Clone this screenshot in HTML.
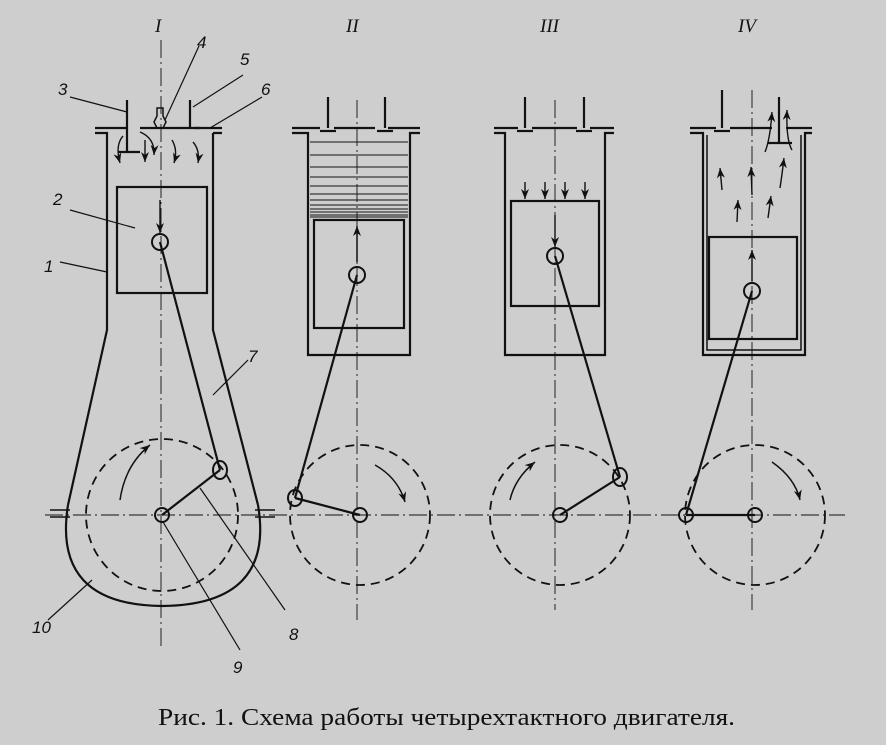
<!DOCTYPE html>
<html><head><meta charset="utf-8"><style>
html,body{margin:0;padding:0;background:#cecece;}
svg{display:block;}
text{font-family:"Liberation Serif","DejaVu Serif",serif;fill:#111;}
.n{font-style:italic;font-size:17px;font-family:"Liberation Sans",sans-serif;}
.r{font-style:italic;font-size:19px;font-family:"Liberation Serif",serif;}
</style></head><body>
<svg width="886" height="745" viewBox="0 0 886 745" xmlns="http://www.w3.org/2000/svg">
<rect width="886" height="745" fill="#cecece"/>
<defs>
<marker id="a" markerWidth="11" markerHeight="8" refX="10" refY="4" orient="auto" markerUnits="userSpaceOnUse">
<path d="M0,0 L10,4 L0,8 L3,4 Z" fill="#111"/></marker>
</defs>
<g stroke="#111" fill="none" stroke-width="1">
<g stroke-dasharray="18,4,2,4" stroke-width="0.9">
<line x1="45" y1="515" x2="845" y2="515"/>
<line x1="161" y1="40" x2="161" y2="650"/>
<line x1="357" y1="100" x2="357" y2="620"/>
<line x1="555" y1="100" x2="555" y2="610"/>
<line x1="752" y1="90" x2="752" y2="610"/>
</g>
<g stroke-width="2.2">
<path d="M95,128 H127 M140,128 H182 M195,128 H222"/>
<path d="M95,133 H107 V330 L68,505 M213,133 H222 M213,133 V330 L258,505"/>
<path d="M68,505 Q52,605 162,606 Q275,605 258,505"/>
<path d="M50,510 H70 M50,517 H70 M255,510 H275 M255,517 H275" stroke-width="1.5"/>
<rect x="117" y="187" width="90" height="106"/>
<line x1="127" y1="100" x2="127" y2="152"/><line x1="118" y1="152" x2="140" y2="152"/>
<line x1="190" y1="100" x2="190" y2="128"/><line x1="181" y1="128" x2="200" y2="128"/>
<path d="M157,108 h6 v8 l3,6 -3,6 h-6 l-3,-6 3,-6z" stroke-width="1.5"/>
<line x1="160" y1="242" x2="220" y2="470"/>
<line x1="162" y1="515" x2="220" y2="470"/>
</g>
<circle cx="160" cy="242" r="8" stroke-width="2"/>
<circle cx="162" cy="515" r="7" stroke-width="2"/>
<ellipse cx="220" cy="470" rx="7" ry="9" stroke-width="2"/>
<circle cx="162" cy="515" r="76" stroke-width="1.8" stroke-dasharray="9,6"/>
<path d="M120,500 Q125,465 150,445" stroke-width="1.5" marker-end="url(#a)"/>
<g stroke-width="1.4">
<path d="M123,136 Q115,145 120,163" marker-end="url(#a)"/>
<line x1="145" y1="140" x2="145" y2="162" marker-end="url(#a)"/>
<path d="M140,132 Q155,138 154,155" marker-end="url(#a)"/>
<path d="M172,140 Q178,150 174,163" marker-end="url(#a)"/>
<path d="M193,142 Q200,150 198,163" marker-end="url(#a)"/>
<line x1="160" y1="200" x2="160" y2="233" marker-end="url(#a)"/>
</g>
<g stroke-width="1.2">
<line x1="70" y1="97" x2="127" y2="112"/>
<line x1="199" y1="46" x2="165" y2="120"/>
<line x1="243" y1="75" x2="193" y2="107"/>
<line x1="262" y1="97" x2="210" y2="128"/>
<line x1="70" y1="210" x2="135" y2="228"/>
<line x1="60" y1="262" x2="107" y2="272"/>
<line x1="248" y1="360" x2="213" y2="395"/>
<line x1="200" y1="488" x2="285" y2="610"/>
<line x1="163" y1="522" x2="240" y2="650"/>
<line x1="48" y1="620" x2="92" y2="580"/>
</g>
<g stroke-width="2.2">
<path d="M292,128 H320 M334,128 H375 M388,128 H420"/>
<path d="M292,133 H308 V355 H410 V133 H420"/>
<rect x="314" y="220" width="90" height="108"/>
<line x1="328" y1="97" x2="328" y2="128"/><line x1="320" y1="131" x2="336" y2="131"/>
<line x1="385" y1="97" x2="385" y2="128"/><line x1="377" y1="131" x2="393" y2="131"/>
<line x1="357" y1="275" x2="295" y2="498"/>
<line x1="295" y1="498" x2="360" y2="515"/>
</g>
<g stroke-width="1.1">
<line x1="310" y1="142" x2="408" y2="142"/><line x1="310" y1="155" x2="408" y2="155"/>
<line x1="310" y1="167" x2="408" y2="167"/><line x1="310" y1="177" x2="408" y2="177"/>
<line x1="310" y1="186" x2="408" y2="186"/><line x1="310" y1="194" x2="408" y2="194"/>
<line x1="310" y1="200" x2="408" y2="200"/><line x1="310" y1="205" x2="408" y2="205"/>
<line x1="310" y1="209" x2="408" y2="209"/><line x1="310" y1="212" x2="408" y2="212"/>
<line x1="310" y1="215" x2="408" y2="215"/><line x1="310" y1="217" x2="408" y2="217"/>
</g>
<line x1="357" y1="262" x2="357" y2="226" stroke-width="1.5" marker-end="url(#a)"/>
<circle cx="357" cy="275" r="8" stroke-width="2"/>
<circle cx="360" cy="515" r="7" stroke-width="2"/>
<ellipse cx="295" cy="498" rx="7" ry="8" stroke-width="2"/>
<circle cx="360" cy="515" r="70" stroke-width="1.8" stroke-dasharray="9,6"/>
<path d="M375,465 Q398,478 405,502" stroke-width="1.5" marker-end="url(#a)"/>
<g stroke-width="2.2">
<path d="M494,128 H518 M532,128 H577 M590,128 H614"/>
<path d="M494,133 H505 V355 H605 V133 H614"/>
<rect x="511" y="201" width="88" height="105"/>
<line x1="525" y1="97" x2="525" y2="128"/><line x1="517" y1="131" x2="533" y2="131"/>
<line x1="584" y1="97" x2="584" y2="128"/><line x1="576" y1="131" x2="592" y2="131"/>
<line x1="555" y1="256" x2="620" y2="477"/>
<line x1="560" y1="515" x2="620" y2="477"/>
</g>
<g stroke-width="1.4">
<line x1="525" y1="182" x2="525" y2="199" marker-end="url(#a)"/>
<line x1="545" y1="182" x2="545" y2="199" marker-end="url(#a)"/>
<line x1="565" y1="182" x2="565" y2="199" marker-end="url(#a)"/>
<line x1="585" y1="182" x2="585" y2="199" marker-end="url(#a)"/>
<line x1="555" y1="215" x2="555" y2="247" marker-end="url(#a)"/>
</g>
<circle cx="555" cy="256" r="8" stroke-width="2"/>
<circle cx="560" cy="515" r="7" stroke-width="2"/>
<ellipse cx="620" cy="477" rx="7" ry="9" stroke-width="2"/>
<circle cx="560" cy="515" r="70" stroke-width="1.8" stroke-dasharray="9,6"/>
<path d="M510,500 Q515,478 535,462" stroke-width="1.5" marker-end="url(#a)"/>
<g stroke-width="2.2">
<path d="M690,128 H716 M730,128 H772 M786,128 H812"/>
<path d="M690,133 H703 V355 H805 V133 H812"/>
<path d="M707,135 V350 H801 V135" stroke-width="1.5"/>
<rect x="709" y="237" width="88" height="102"/>
<line x1="722" y1="90" x2="722" y2="128"/><line x1="714" y1="131" x2="730" y2="131"/>
<line x1="779" y1="97" x2="779" y2="142"/><line x1="768" y1="143" x2="792" y2="143"/>
<line x1="752" y1="291" x2="686" y2="515"/>
<line x1="686" y1="515" x2="755" y2="515"/>
</g>
<g stroke-width="1.4">
<line x1="722" y1="190" x2="720" y2="168" marker-end="url(#a)"/>
<line x1="752" y1="195" x2="751" y2="167" marker-end="url(#a)"/>
<path d="M780,188 Q782,175 784,158" marker-end="url(#a)"/>
<line x1="737" y1="222" x2="738" y2="200" marker-end="url(#a)"/>
<line x1="768" y1="218" x2="771" y2="196" marker-end="url(#a)"/>
<path d="M765,152 Q770,140 772,112" marker-end="url(#a)"/>
<path d="M792,150 Q786,140 787,110" marker-end="url(#a)"/>
<line x1="752" y1="281" x2="752" y2="250" marker-end="url(#a)"/>
</g>
<circle cx="752" cy="291" r="8" stroke-width="2"/>
<circle cx="755" cy="515" r="7" stroke-width="2"/>
<ellipse cx="686" cy="515" rx="7" ry="7" stroke-width="2"/>
<circle cx="755" cy="515" r="70" stroke-width="1.8" stroke-dasharray="9,6"/>
<path d="M772,462 Q795,478 800,500" stroke-width="1.5" marker-end="url(#a)"/>
</g>
<text class="r" x="155" y="32">I</text>
<text class="r" x="346" y="32">II</text>
<text class="r" x="540" y="32">III</text>
<text class="r" x="738" y="32">IV</text>
<text class="n" x="58" y="95">3</text>
<text class="n" x="197" y="48">4</text>
<text class="n" x="240" y="65">5</text>
<text class="n" x="261" y="95">6</text>
<text class="n" x="53" y="205">2</text>
<text class="n" x="44" y="272">1</text>
<text class="n" x="248" y="362">7</text>
<text class="n" x="289" y="640">8</text>
<text class="n" x="233" y="673">9</text>
<text class="n" x="32" y="633">10</text>
<text x="158" y="725" font-size="24" textLength="577" lengthAdjust="spacingAndGlyphs">Рис. 1.  Схема работы четырехтактного двигателя.</text>
</svg>
</body></html>
